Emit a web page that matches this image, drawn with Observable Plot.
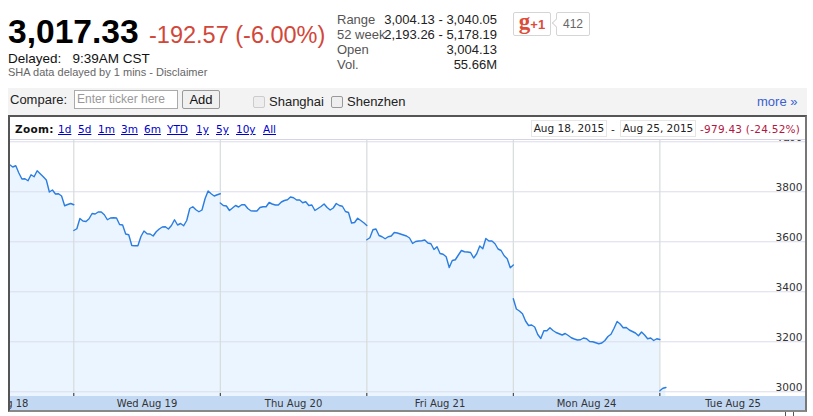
<!DOCTYPE html>
<html><head><meta charset="utf-8">
<script src="https://cdn.jsdelivr.net/npm/d3@7"></script>
<script src="https://cdn.jsdelivr.net/npm/@observablehq/plot@0.6"></script>
<style>
html,body{margin:0;padding:0;background:#fff;overflow:hidden}
body{width:813px;height:416px;position:relative;font-family:"Liberation Sans",Arial,sans-serif;color:#000}
.a{position:absolute;white-space:nowrap;line-height:1}
#band{position:absolute;left:10px;top:396px;width:796px;height:15px;background:#c3d9f3}
#wrap{position:absolute;left:10px;top:130px;width:796px;height:281px;overflow:hidden}
#wrap svg{display:block;background:transparent!important}
#frame{position:absolute;left:8px;top:115px;width:795px;height:293px;border:2px solid #555;border-right-color:#777;border-bottom-color:#888;pointer-events:none}
#tools{position:absolute;left:10px;top:117px;width:795px;height:22px;background:#fff;border-bottom:1px solid #d4d4e2}
#cmp{position:absolute;left:8px;top:88px;width:799px;height:27px;background:#f3f3f3}
.z{position:absolute;top:124px;font:10.5px/1 "DejaVu Sans",Verdana,sans-serif;white-space:nowrap}
.l{color:#0000cc;text-decoration:underline}
.dt{position:absolute;top:120px;height:15px;border:1px solid #e6e6e6;font:10.5px/15px "DejaVu Sans",Verdana,sans-serif;text-align:center;color:#222;background:#fff}
</style></head><body>
<div class="a" style="left:8px;top:15px;font-size:33.6px;font-weight:bold">3,017.33</div>
<div class="a" style="left:149px;top:24px;font-size:23.5px;color:#d2473a">-192.57 (-6.00%)</div>
<div class="a" style="left:8px;top:52px;font-size:13.5px;color:#111">Delayed:&nbsp;&nbsp; 9:39AM CST</div>
<div class="a" style="left:8px;top:67px;font-size:11px;color:#666">SHA data delayed by 1 mins - Disclaimer</div>
<div class="a" style="left:337px;top:13px;font-size:13px;color:#555">Range</div>
<div class="a" style="left:337px;top:28px;font-size:13px;color:#555">52 week</div>
<div class="a" style="left:337px;top:43px;font-size:13px;color:#555">Open</div>
<div class="a" style="left:337px;top:58px;font-size:13px;color:#555">Vol.</div>
<div class="a" style="right:316px;top:13px;font-size:13px;color:#222">3,004.13 - 3,040.05</div>
<div class="a" style="right:316px;top:28px;font-size:13px;color:#222">2,193.26 - 5,178.19</div>
<div class="a" style="right:316px;top:43px;font-size:13px;color:#222">3,004.13</div>
<div class="a" style="right:316px;top:58px;font-size:13px;color:#222">55.66M</div>
<div class="a" style="left:513px;top:12px;width:36px;height:22px;border:1px solid #d5d5d5;border-radius:2px;color:#dd4b39;font-family:'Liberation Serif',serif;font-weight:bold;font-size:23px;line-height:18px;text-align:center">g<span style="font:bold 13px 'Liberation Sans'">+1</span></div>
<div class="a" style="left:556px;top:12px;width:32px;height:22px;border:1px solid #d5d5d5;border-radius:2px;color:#666;font-size:12px;line-height:22px;text-align:center">412</div>
<div class="a" style="left:553px;top:20px;width:5px;height:5px;border-left:1px solid #d5d5d5;border-bottom:1px solid #d5d5d5;background:#fff;transform:rotate(45deg)"></div>
<div id="cmp"></div>
<div class="a" style="left:10px;top:93px;font-size:13px;color:#222">Compare:</div>
<div class="a" style="left:74px;top:90px;width:102px;height:17px;border:1px solid #aaa;background:#fff;color:#999;font-size:12px;line-height:17px;text-indent:2px">Enter ticker here</div>
<div class="a" style="left:182px;top:90px;width:36px;height:17px;border:1px solid #999;border-radius:2px;background:#f0f0f0;color:#111;font-size:13px;line-height:17px;text-align:center">Add</div>
<div class="a" style="left:253px;top:96px;width:10px;height:10px;border:1px solid #ccc;border-radius:2px;background:#eee"></div>
<div class="a" style="left:269px;top:95px;font-size:13px;color:#222">Shanghai</div>
<div class="a" style="left:331px;top:96px;width:10px;height:10px;border:1px solid #999;border-radius:2px;background:#eee"></div>
<div class="a" style="left:347px;top:95px;font-size:13px;color:#222">Shenzhen</div>
<div class="a" style="left:757px;top:95px;font-size:13px;color:#3b5fd0">more »</div>
<div id="band"></div>
<div id="wrap"></div>
<div id="tools"></div>
<div class="z" style="left:15px;font-weight:bold;letter-spacing:.3px;color:#111">Zoom:</div>
<div class="z l" style="left:58px">1d</div><div class="z l" style="left:78px">5d</div><div class="z l" style="left:98px">1m</div>
<div class="z l" style="left:121px">3m</div><div class="z l" style="left:144px">6m</div><div class="z l" style="left:167px">YTD</div>
<div class="z l" style="left:196px">1y</div><div class="z l" style="left:216px">5y</div><div class="z l" style="left:236px">10y</div><div class="z l" style="left:263px">All</div>
<div class="dt" style="left:531px;width:74px">Aug 18, 2015</div>
<div class="z" style="left:611px;color:#222">-</div>
<div class="dt" style="left:620px;width:74px">Aug 25, 2015</div>
<div class="z" style="left:700px;color:#b3163f;letter-spacing:.25px">-979.43 (-24.52%)</div>
<div id="frame"></div>
<div class="a" style="left:785px;top:412px;width:7px;height:4px;border:1px solid #555;border-top:0;border-bottom:0"></div>
<script>
const aug18 = [3908,3899,3904,3875,3851,3852,3844,3868,3860,3884,3872,3860,3847,3799,3807,3791,3792,3783,3744,3749,3753,3748];
const aug19 = [3645,3652,3693,3683,3681,3692,3713,3711,3719,3719,3708,3688,3695,3696,3695,3669,3667,3631,3628,3585,3584,3584,3621,3643,3632,3631,3623,3640,3651,3659,3660,3651,3665,3688,3667,3673,3664,3685,3733,3740,3728,3720,3727,3772,3803,3792,3783,3788,3792];
const aug20 = [3755,3745,3743,3725,3735,3745,3739,3748,3748,3733,3724,3723,3723,3737,3740,3740,3757,3751,3747,3747,3759,3765,3768,3779,3776,3767,3767,3756,3760,3745,3747,3725,3733,3741,3751,3737,3727,3735,3753,3745,3742,3721,3717,3675,3677,3694,3685,3676,3665];
const aug21 = [3608,3616,3648,3651,3625,3620,3612,3620,3623,3637,3635,3631,3627,3623,3615,3593,3601,3603,3604,3607,3595,3592,3569,3580,3553,3550,3540,3497,3525,3528,3547,3565,3560,3559,3557,3535,3552,3583,3572,3613,3603,3603,3592,3571,3565,3544,3532,3496,3507];
const aug24 = [3372,3331,3323,3312,3283,3265,3267,3259,3229,3213,3244,3244,3256,3245,3237,3232,3227,3233,3225,3216,3211,3207,3208,3215,3212,3201,3200,3196,3192,3195,3205,3221,3230,3254,3281,3271,3256,3257,3247,3241,3235,3224,3239,3227,3212,3215,3205,3212,3209];
const aug25 = [3004,3014,3017];
const dayLabels = ["Tue Aug 18","Wed Aug 19","Thu Aug 20","Fri Aug 21","Mon Aug 24","Tue Aug 25"];
const dayBreaks = [0,1,2,3,4,5];
const dayCenters = [-0.5,0.5,1.5,2.5,3.5,4.5];
const yTicks = [3000,3200,3400,3600,3800,4000];
const barsPerDay = 48;
const rows = [];
aug18.forEach((v,i)=>rows.push({pos:-1+(48-aug18.length+1+i)/barsPerDay,v,day:0}));
[aug19,aug20,aug21,aug24,aug25].forEach((arr,d)=>arr.forEach((v,i)=>rows.push({pos:d+i/barsPerDay,v,day:d+1})));
const yBottom = 2981;
const chart = Plot.plot({
  width:796,height:281,marginLeft:0,marginRight:0,marginTop:0,marginBottom:15,
  x:{domain:[-0.432,5.001],axis:null},
  y:{domain:[2981,4045],range:[266,0],axis:null},
  marks:[
    Plot.areaY(rows,{x:"pos",y1:yBottom,y2:"v",z:"day",fill:"#eaf5ff",curve:"linear"}),
    Plot.ruleY(yTicks,{stroke:"#dcdcec",strokeWidth:1.2}),
    Plot.ruleX(dayBreaks,{y1:yBottom,y2:4045,stroke:"#d6dcdc",strokeWidth:1.2}),
    Plot.ruleX(dayBreaks,{y1:yBottom,y2:yBottom+12,stroke:"#333",strokeWidth:1}),
    Plot.lineY(rows,{x:"pos",y:"v",z:"day",stroke:"#2a7de1",strokeWidth:1.4,curve:"linear"}),
    Plot.axisY({ticks:yTicks,anchor:"right",tickSize:0,tickFormat:d=>String(d),dx:-40,dy:-4,fontSize:10.6,fontFamily:"DejaVu Sans",fill:"#333"}),
    Plot.axisX({ticks:dayCenters,anchor:"bottom",tickSize:0,tickPadding:0,label:null,tickFormat:d=>dayLabels[dayCenters.indexOf(d)],fontSize:10,fontFamily:"DejaVu Sans",fill:"#333",dy:3})
  ]
});
document.getElementById("wrap").appendChild(chart);
</script>
</body></html>
